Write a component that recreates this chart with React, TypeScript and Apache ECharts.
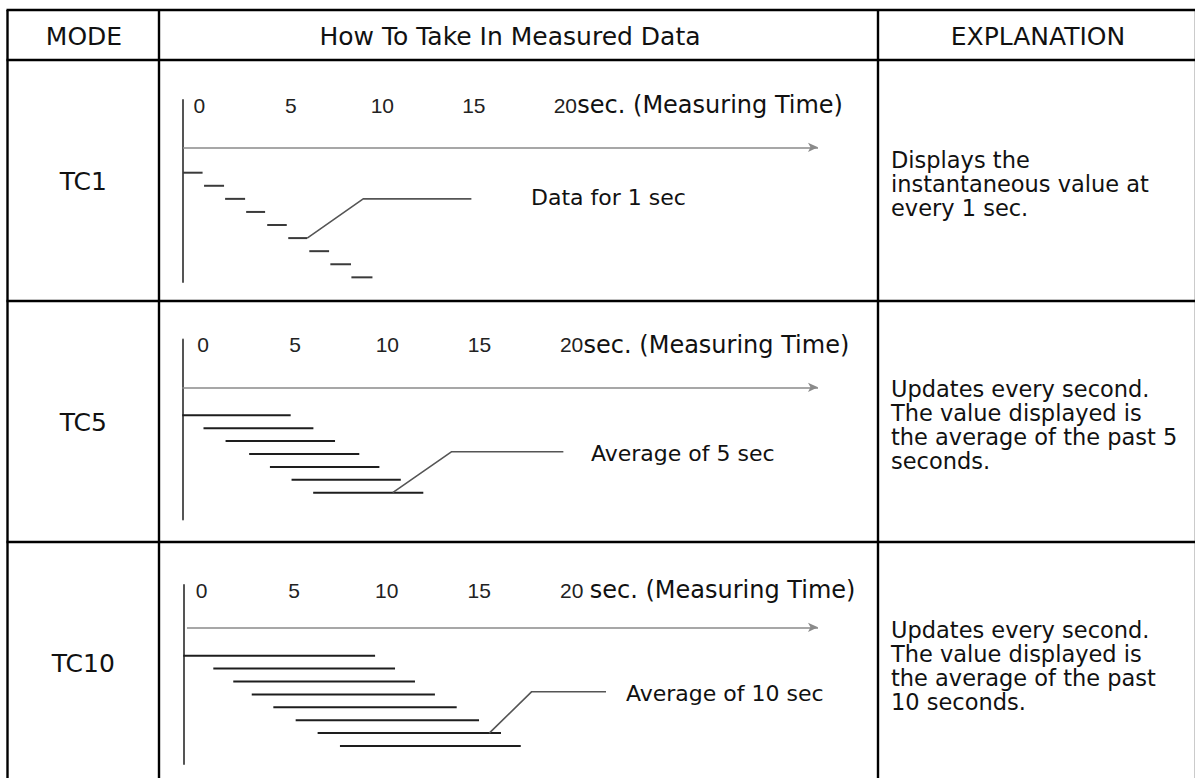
import React, { useEffect, useRef } from "react";
import * as echarts from "echarts";

// ---------- texts ----------
const headers = ["MODE", "How To Take In Measured Data", "EXPLANATION"];
const modes = ["TC1", "TC5", "TC10"];
const explanations = [
  ["Displays the", "instantaneous value at", "every 1 sec."],
  ["Updates every second.", "The value displayed is", "the average of the past 5", "seconds."],
  ["Updates every second.", "The value displayed is", "the average of the past", "10 seconds."],
];
const tickLabels = [0, 5, 10, 15, 20];
const unitTexts = ["sec. (Measuring Time)", "sec. (Measuring Time)", "sec. (Measuring Time)"];
const annotations = ["Data for 1 sec", "Average of 5 sec", "Average of 10 sec"];

// ---------- data (seconds, step level) ----------
const tc1Start = [0, 1, 2, 3, 4, 5, 6, 7, 8];
const tc1End = [0.93, 1.95, 2.95, 3.9, 4.93, 5.9, 6.94, 7.98, 9.0];
const tc1Level = [0, 1, 2, 3, 4, 5, 6, 7, 8];
const tc1PointerX = [5.9, 8.56, 13.7];
const tc1PointerY = [5, 2, 2];

const tc5Start = [0, 0.97, 1.98, 3.06, 4.01, 5.0, 5.99];
const tc5End = [4.96, 6.0, 6.99, 8.1, 9.02, 10.0, 11.03];
const tc5Level = [0, 1, 2, 3, 4, 5, 6];
const tc5PointerX = [9.63, 12.33, 17.44];
const tc5PointerY = [6, 2.82, 2.82];

const tc10Start = [0, 1.64, 2.73, 3.74, 4.92, 6.14, 7.34, 8.56];
const tc10End = [10.48, 11.57, 12.66, 13.75, 14.94, 16.16, 17.36, 18.44];
const tc10Level = [0, 1, 2, 3, 4, 5, 6, 7];
const tc10PointerX = [16.72, 19.04, 23.1];
const tc10PointerY = [6, 2.79, 2.79];

const arrowLevel = [-1.94, -2.17, -2.2];
const arrowStart = [0, 0, 0.2];

// ---------- layout ----------
const W = 1195;
const H = 778;
const FONT = "'DejaVu Sans', Verdana, sans-serif";
const tableX = [7.5, 159, 878, 1196];
const tableY = [10, 60, 301, 542, 783];

const rowsLayout = [
  { left: 183, top: 100, height: 182, right: 818, segPx: 21.05, labelZero: 199.3, labelPx: 18.3, levelZero: 172.7, levelPx: 13.08, segColor: "#3a3a3a", annX: 531, annY: 197, unitGap: 11 },
  { left: 182.3, top: 339.5, height: 180, right: 818, segPx: 21.85, labelZero: 203, labelPx: 18.43, levelZero: 415.3, levelPx: 12.9, segColor: "#1e1e1e", annX: 591, annY: 453, unitGap: 11 },
  { left: 183.3, top: 585, height: 179, right: 818, segPx: 18.3, labelZero: 201.7, labelPx: 18.5, levelZero: 655.7, levelPx: 12.9, segColor: "#1e1e1e", annX: 626, annY: 693, unitGap: 17 },
];

const segData = [
  tc1Start.map((s, i) => [s, tc1End[i], tc1Level[i]]),
  tc5Start.map((s, i) => [s, tc5End[i], tc5Level[i]]),
  tc10Start.map((s, i) => [s, tc10End[i], tc10Level[i]]),
];
const pointerData = [
  tc1PointerX.map((x, i) => [x, tc1PointerY[i]]),
  tc5PointerX.map((x, i) => [x, tc5PointerY[i]]),
  tc10PointerX.map((x, i) => [x, tc10PointerY[i]]),
];

function buildOption() {
  const grid: any[] = [];
  const xAxis: any[] = [];
  const yAxis: any[] = [];
  const series: any[] = [];
  const graphic: any[] = [];

  rowsLayout.forEach((r, i) => {
    const width = r.right - r.left;
    grid.push({ left: r.left, top: r.top, width, height: r.height, containLabel: false });
    xAxis.push({
      type: "value",
      gridIndex: i,
      position: "top",
      min: (r.left - r.labelZero) / r.labelPx,
      max: (r.right - r.labelZero) / r.labelPx,
      axisLine: { show: false, onZero: false },
      axisTick: { show: false },
      splitLine: { show: false },
      axisLabel: {
        customValues: tickLabels,
        margin: -5,
        verticalAlign: "middle",
        fontFamily: "'Liberation Sans', Arial, sans-serif",
        fontSize: 21,
        color: "#222",
      },
    });
    const segMax = width / r.segPx;
    xAxis.push({
      type: "value",
      gridIndex: i,
      min: 0,
      max: segMax,
      show: false,
      axisLine: { onZero: false },
    });
    yAxis.push({
      type: "value",
      gridIndex: i,
      inverse: true,
      min: (r.top - r.levelZero) / r.levelPx,
      max: (r.top + r.height - r.levelZero) / r.levelPx,
      axisLine: { show: true, onZero: false, lineStyle: { color: "#555", width: 2 } },
      axisTick: { show: false },
      axisLabel: { show: false },
      splitLine: { show: false },
    });

    series.push({
      type: "custom",
      xAxisIndex: 2 * i + 1,
      yAxisIndex: i,
      silent: true,
      encode: { x: [0, 1], y: 2 },
      data: segData[i],
      renderItem: (params: any, api: any) => {
        const s = api.coord([api.value(0), api.value(2)]);
        const e = api.coord([api.value(1), api.value(2)]);
        return {
          type: "line",
          shape: { x1: s[0], y1: s[1], x2: e[0], y2: e[1] },
          style: { stroke: r.segColor, lineWidth: 2 },
        };
      },
    });
    series.push({
      type: "line",
      xAxisIndex: 2 * i + 1,
      yAxisIndex: i,
      silent: true,
      symbol: "none",
      data: pointerData[i],
      lineStyle: { color: "#555", width: 1.6 },
      markLine: {
        silent: true,
        symbol: ["none", "arrow"],
        symbolSize: [7, 10],
        label: { show: false },
        lineStyle: { color: "#8a8a8a", width: 1.5, type: "solid" },
        data: [[{ coord: [arrowStart[i], arrowLevel[i]] }, { coord: [segMax, arrowLevel[i]] }]],
      },
    });

    graphic.push({
      type: "text",
      x: r.labelZero + 20 * r.labelPx + r.unitGap + 1,
      y: r.top + 5,
      style: { text: unitTexts[i], font: `24px ${FONT}`, fill: "#111", textVerticalAlign: "middle" },
    });
    graphic.push({
      type: "text",
      x: r.annX,
      y: r.annY,
      style: { text: annotations[i], font: `22px ${FONT}`, fill: "#111", textVerticalAlign: "middle" },
    });
    const cy = (tableY[i + 1] + tableY[i + 2]) / 2;
    graphic.push({
      type: "text",
      x: (tableX[0] + tableX[1]) / 2,
      y: cy + 1,
      style: { text: modes[i], font: `25px ${FONT}`, fill: "#111", textAlign: "center", textVerticalAlign: "middle" },
    });
    graphic.push({
      type: "text",
      x: tableX[2] + 13,
      y: cy + 3,
      style: {
        text: explanations[i].join("\n"),
        font: `22.5px ${FONT}`,
        lineHeight: 24,
        fill: "#111",
        textVerticalAlign: "middle",
      },
    });
  });

  const headerCy = (tableY[0] + tableY[1]) / 2 + 1;
  const headerCx = [84, 510, 1038];
  headers.forEach((h, i) => {
    graphic.push({
      type: "text",
      x: headerCx[i],
      y: headerCy,
      style: { text: h, font: `25px ${FONT}`, fill: "#111", textAlign: "center", textVerticalAlign: "middle" },
    });
  });

  tableY.slice(0, 4).forEach((y) => {
    graphic.push({ type: "line", shape: { x1: tableX[0] - 1, y1: y, x2: W, y2: y }, style: { stroke: "#000", lineWidth: 2.4 } });
  });
  tableX.forEach((x) => {
    graphic.push({ type: "line", shape: { x1: x, y1: tableY[0], x2: x, y2: H }, style: { stroke: "#000", lineWidth: 2.4 } });
  });

  return { animation: false, backgroundColor: "#fff", grid, xAxis, yAxis, series, graphic };
}

export default function App() {
  const ref = useRef<HTMLDivElement>(null);
  useEffect(() => {
    document.body.style.margin = "0";
    const chart = echarts.init(ref.current!, undefined, { renderer: "svg" });
    chart.setOption(buildOption() as any);
    return () => chart.dispose();
  }, []);
  return <div ref={ref} style={{ width: W, height: H }} />;
}
